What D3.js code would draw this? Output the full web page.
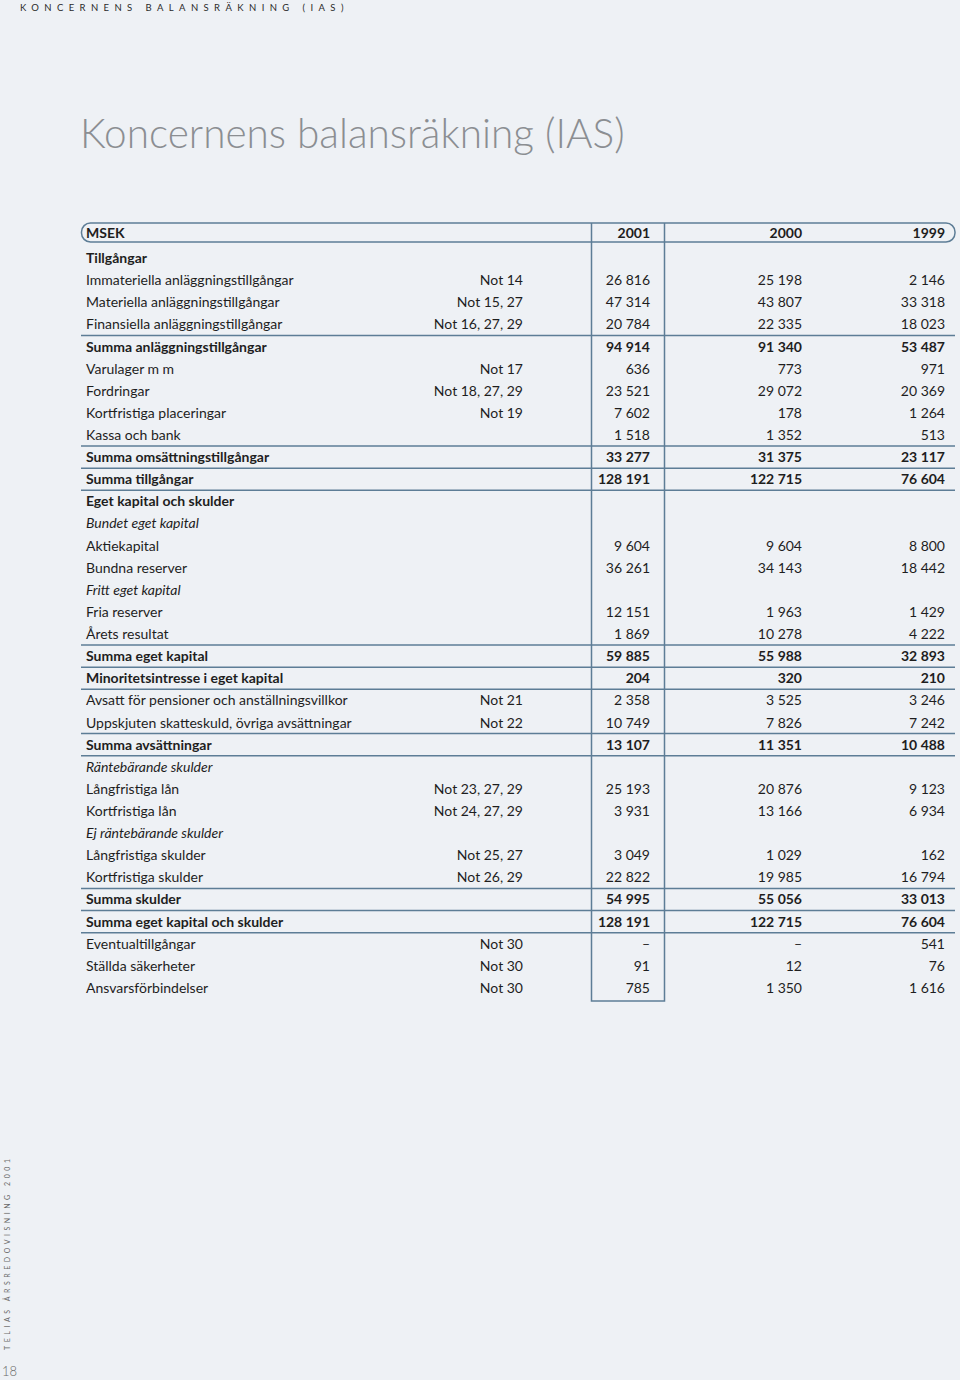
<!DOCTYPE html>
<html>
<head>
<meta charset="utf-8">
<script src="https://cdn.jsdelivr.net/npm/d3@7"></script>
<style>
  html, body { margin: 0; padding: 0; background: #eef1f5; }
  svg { display: block; font-family: Lato, "Noto Sans", sans-serif; }
</style>
</head>
<body>
<svg></svg>
<script>
var width = 960,
  height = 1380;

// rows of the balance sheet
var labels = [
  "Tillgångar",
  "Immateriella anläggningstillgångar",
  "Materiella anläggningstillgångar",
  "Finansiella anläggningstillgångar",
  "Summa anläggningstillgångar",
  "Varulager m m",
  "Fordringar",
  "Kortfristiga placeringar",
  "Kassa och bank",
  "Summa omsättningstillgångar",
  "Summa tillgångar",
  "Eget kapital och skulder",
  "Bundet eget kapital",
  "Aktiekapital",
  "Bundna reserver",
  "Fritt eget kapital",
  "Fria reserver",
  "Årets resultat",
  "Summa eget kapital",
  "Minoritetsintresse i eget kapital",
  "Avsatt för pensioner och anställningsvillkor",
  "Uppskjuten skatteskuld, övriga avsättningar",
  "Summa avsättningar",
  "Räntebärande skulder",
  "Långfristiga lån",
  "Kortfristiga lån",
  "Ej räntebärande skulder",
  "Långfristiga skulder",
  "Kortfristiga skulder",
  "Summa skulder",
  "Summa eget kapital och skulder",
  "Eventualtillgångar",
  "Ställda säkerheter",
  "Ansvarsförbindelser"
];

// h = heading, s = sub heading (italic), b = bold sum, n = normal
var kinds = ["h","n","n","n","b","n","n","n","n","b","b","h","s","n","n","s","n","n","b","b","n","n","b","s","n","n","s","n","n","b","b","n","n","n"];

var notes = ["", "Not 14", "Not 15, 27", "Not 16, 27, 29", "", "Not 17", "Not 18, 27, 29", "Not 19", "", "", "",
  "", "", "", "", "", "", "", "", "", "Not 21", "Not 22", "", "", "Not 23, 27, 29", "Not 24, 27, 29", "",
  "Not 25, 27", "Not 26, 29", "", "", "Not 30", "Not 30", "Not 30"];

var years = ["2001", "2000", "1999"];

var v2001 = [null, 26816, 47314, 20784, 94914, 636, 23521, 7602, 1518, 33277, 128191, null, null, 9604, 36261, null,
  12151, 1869, 59885, 204, 2358, 10749, 13107, null, 25193, 3931, null, 3049, 22822, 54995, 128191, 0, 91, 785];
var v2000 = [null, 25198, 43807, 22335, 91340, 773, 29072, 178, 1352, 31375, 122715, null, null, 9604, 34143, null,
  1963, 10278, 55988, 320, 3525, 7826, 11351, null, 20876, 13166, null, 1029, 19985, 55056, 122715, 0, 12, 1350];
var v1999 = [null, 2146, 33318, 18023, 53487, 971, 20369, 1264, 513, 23117, 76604, null, null, 8800, 18442, null,
  1429, 4222, 32893, 210, 3246, 7242, 10488, null, 9123, 6934, null, 162, 16794, 33013, 76604, 541, 76, 1616];

// rows that get a rule on their top edge
var rules = [4, 9, 10, 11, 18, 19, 20, 22, 23, 29, 30, 31];

var lineColor = "#5d7d96",
  textColor = "#1e1e1e";

var svg = d3.select("svg")
  .attr("width", width)
  .attr("height", height);

svg.append("rect")
  .attr("width", width)
  .attr("height", height)
  .attr("fill", "#eef1f5");

var y = d3.scaleBand()
  .domain(d3.range(labels.length))
  .range([247, 999]);

// right edges of the value columns
var x = d3.scaleOrdinal()
  .domain(["label", "note", "2001", "2000", "1999"])
  .range([86, 523, 650, 802, 945]);

var fmt = function(v) {
  if (v === null) return "";
  if (v === 0) return "\u2013";
  return d3.format(",")(v).replace(/,/g, " ");
};

// page header
svg.append("text")
  .attr("x", 20)
  .attr("y", 11)
  .attr("font-size", 9.5)
  .attr("letter-spacing", 5.4)
  .attr("fill", "#2a2a2a")
  .text("KONCERNENS BALANSRÄKNING (IAS)");

svg.append("text")
  .attr("x", 80)
  .attr("y", 148)
  .attr("font-size", 40.5)
  .attr("font-weight", 300)
  .attr("fill", "#8b8e92")
  .text("Koncernens balansräkning (IAS)");

// table header
var tableTop = 223, tableBottom = 1001;

svg.append("rect")
  .attr("x", 81.5)
  .attr("y", tableTop)
  .attr("width", 955 - 81.5)
  .attr("height", 19)
  .attr("rx", 9)
  .attr("fill", "none")
  .attr("stroke", lineColor)
  .attr("stroke-width", 1.5);

var head = svg.append("g")
  .attr("font-size", 14)
  .attr("font-weight", 700)
  .attr("fill", textColor);

head.append("text")
  .attr("x", x("label"))
  .attr("y", 238)
  .text("MSEK");

head.selectAll(".yr")
  .data(years)
  .enter().append("text")
  .attr("class", "yr")
  .attr("x", function(d) { return x(d); })
  .attr("y", 238)
  .attr("text-anchor", "end")
  .text(function(d) { return d; });

// 2001 column box
svg.append("path")
  .attr("d", "M591.5," + tableTop + "V" + tableBottom + "H664.5V" + tableTop)
  .attr("fill", "none")
  .attr("stroke", lineColor)
  .attr("stroke-width", 1.5);

// rules
svg.append("g")
  .selectAll("line")
  .data(rules)
  .enter().append("line")
  .attr("x1", 81)
  .attr("x2", 955)
  .attr("y1", function(d) { return y(d); })
  .attr("y2", function(d) { return y(d); })
  .attr("stroke", lineColor)
  .attr("stroke-width", 1.5);

var rows = svg.append("g")
  .attr("font-size", 14)
  .attr("fill", textColor)
  .selectAll("g")
  .data(labels)
  .enter().append("g")
  .attr("transform", function(d, i) {
    return "translate(0," + (y(i) + y.bandwidth() / 2 + 5) + ")";
  })
  .attr("font-weight", function(d, i) {
    return kinds[i] === "h" || kinds[i] === "b" ? 700 : 400;
  })
  .attr("font-style", function(d, i) {
    return kinds[i] === "s" ? "italic" : "normal";
  });

rows.append("text")
  .attr("x", x("label"))
  .text(function(d) { return d; });

rows.append("text")
  .attr("x", x("note"))
  .attr("text-anchor", "end")
  .text(function(d, i) { return notes[i]; });

var series = [v2001, v2000, v1999];
years.forEach(function(yr, k) {
  rows.append("text")
    .attr("x", x(yr))
    .attr("text-anchor", "end")
    .text(function(d, i) { return fmt(series[k][i]); });
});

// side note and page number
svg.append("text")
  .attr("transform", "translate(10,1350) rotate(-90)")
  .attr("font-size", 7)
  .attr("letter-spacing", 3.55)
  .attr("fill", "#6a6a6a")
  .text("TELIAS ÅRSREDOVISNING 2001");

svg.append("text")
  .attr("x", 2)
  .attr("y", 1376)
  .attr("font-size", 13)
  .attr("font-weight", 300)
  .attr("fill", "#6a6a6a")
  .text("18");
</script>
</body>
</html>
